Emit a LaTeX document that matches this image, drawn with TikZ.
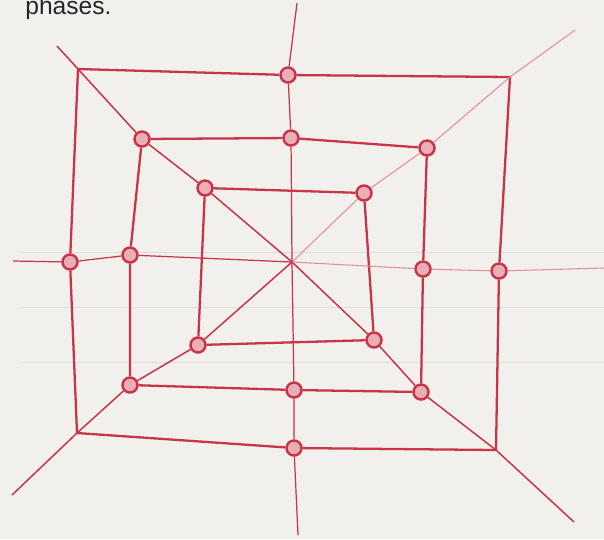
\documentclass[tikz,border=0pt]{standalone}
\usepackage{fontspec}
\setmainfont{Liberation Sans}
\usetikzlibrary{positioning}
\definecolor{ink}{RGB}{200,52,72}
\definecolor{paper}{RGB}{242,240,236}
\definecolor{ruling}{RGB}{222,222,220}
\tikzset{
  dot/.style={
    circle, draw=ink, fill=ink!40, line width=1.4pt,
    minimum size=0.3cm, inner sep=0pt
  },
  boxline/.style={ink, line width=1.3pt, line join=round},
  diagline/.style={ink, line width=0.85pt},
  faintline/.style={ink!55, line width=0.6pt},
  axisline/.style={ink, line width=0.7pt},
  ruleline/.style={ruling, line width=0.5pt},
}

\begin{document}
\begin{tikzpicture}[x=0.02cm, y=-0.02cm]

  % ── Paper ──
  \fill[paper] (0,0) rectangle (604,539);
  \useasboundingbox (0,0) rectangle (604,539);
  \draw[ruleline] (20,252) -- (604,252);
  \draw[ruleline] (20,307) -- (604,307);
  \draw[ruleline] (20,362) -- (604,362);

  % ── Caption (cut off at the top) ──
  \node[font=\fontsize{14}{16}\selectfont, text=black!85, anchor=base west, inner sep=0pt]
    (caption) at (25,14) {phases.};

  % ── Outer square corners and ends of the lines ──
  \coordinate (Otl) at (78,69);
  \coordinate (Otr) at (510,77);
  \coordinate (Obr) at (496,450);
  \coordinate (Obl) at (77,433);
  \coordinate (C) at (292,262);
  \coordinate (D1s) at (57,46);
  \coordinate (D1e) at (574,522);
  \coordinate (D2s) at (575,30);
  \coordinate (D2e) at (12,495);
  \coordinate (Hl) at (13,261);
  \coordinate (Hr) at (604,268);
  \coordinate (Vt) at (297,3);
  \coordinate (Vb) at (298,535);

  % ── Dots ──
  \node[dot] (otop) at (288,75) {};
  \node[dot] (oleft) at (70,262) {};
  \node[dot] (oright) at (499,271) {};
  \node[dot] (obot) at (294,448) {};

  \node[dot] (mtl) at (142,139) {};
  \node[dot] (mtop) at (291,138) {};
  \node[dot] (mtr) at (427,148) {};
  \node[dot] (mright) at (423,269) {};
  \node[dot] (mbr) at (421,392) {};
  \node[dot] (mbot) at (294,390) {};
  \node[dot] (mbl) at (130,385) {};
  \node[dot] (mleft) at (130,255) {};

  \node[dot] (itl) at (205,188) {};
  \node[dot] (itr) at (364,193) {};
  \node[dot] (ibr) at (374,340) {};
  \node[dot] (ibl) at (198,345) {};

  % ── Squares ──
  \draw[boxline] (Otl) -- (otop) -- (Otr) -- (oright) -- (Obr) -- (obot) -- (Obl) -- (oleft) -- (Otl);
  \draw[boxline] (mtl) -- (mtop) -- (mtr) -- (mright) -- (mbr) -- (mbot) -- (mbl) -- (mleft) -- (mtl);
  \draw[boxline] (itl) -- (itr) -- (ibr) -- (ibl) -- (itl);

  % ── Diagonals ──
  \draw[diagline] (D1s) -- (Otl) -- (mtl) -- (itl) -- (C) -- (ibr) -- (mbr) -- (Obr) -- (D1e);
  \draw[faintline] (D2s) -- (Otr) -- (mtr) -- (itr) -- (C);
  \draw[diagline] (C) -- (ibl) -- (mbl) -- (Obl) -- (D2e);

  % ── Axes ──
  \draw[axisline] (Hl) -- (oleft) -- (mleft) -- (C);
  \draw[faintline] (C) -- (mright) -- (oright) -- (Hr);
  \draw[axisline] (Vt) -- (otop) -- (mtop) -- (C) -- (mbot) -- (obot) -- (Vb);

\end{tikzpicture}
\end{document}
